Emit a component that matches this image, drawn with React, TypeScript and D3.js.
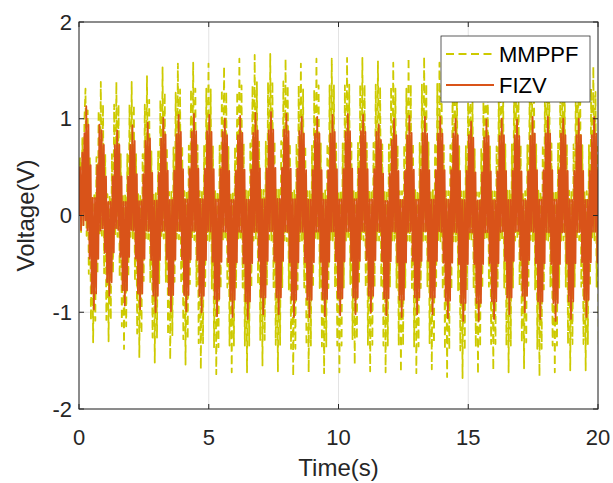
import React from 'react';
import * as d3 from 'd3';

const W = 613;
const H = 483;

const xTicks = [0, 5, 10, 15, 20];
const yTicks = [-2, -1, 0, 1, 2];

// times (s) of the upper spikes of each slow cycle
const peakTimes = [
  0.28, 0.87, 1.47, 2.06, 2.65, 3.25, 3.84, 4.43, 5.02, 5.62,
  6.21, 6.8, 7.4, 7.99, 8.58, 9.18, 9.77, 10.36, 10.95, 11.55,
  12.14, 12.73, 13.33, 13.92, 14.51, 15.11, 15.7, 16.29, 16.88, 17.48,
  18.07, 18.66, 19.26, 19.85,
];

// FIZV: upper spike and lower spike of each cycle
const fizvUpper = [
  1.13, 0.88, 0.88, 0.93, 0.96, 1.01, 1.04, 1.05, 1.04, 1.0,
  1.03, 1.06, 1.07, 1.05, 1.02, 1.02, 1.04, 1.05, 1.04, 0.94,
  1.0, 1.03, 1.02, 1.02, 1.0, 0.97, 0.99, 1.0, 0.99, 1.02,
  1.02, 1.0, 1.0, 1.02,
];
const fizvLower = [
  -0.97, -0.83, -0.93, -0.97, -1.0, -0.99, -0.99, -1.0, -1.04, -1.05,
  -1.07, -1.02, -1.02, -1.05, -1.05, -1.04, -1.03, -1.02, -1.0, -1.03,
  -1.05, -1.02, -1.02, -1.06, -1.09, -1.09, -1.07, -1.02, -1.0, -1.07,
  -1.09, -1.07, -1.05, -1.05,
];

// MMPPF: upper spike and lower spike of each cycle
const mmppfUpper = [
  1.31, 1.38, 1.38, 1.38, 1.44, 1.53, 1.57, 1.58, 1.57, 1.54,
  1.62, 1.66, 1.67, 1.62, 1.57, 1.62, 1.62, 1.63, 1.63, 1.6,
  1.58, 1.63, 1.64, 1.58, 1.56, 1.49, 1.55, 1.6, 1.58, 1.6,
  1.62, 1.6, 1.58, 1.54,
];
const mmppfLower = [
  -1.31, -1.3, -1.38, -1.47, -1.52, -1.49, -1.54, -1.59, -1.64, -1.62,
  -1.62, -1.55, -1.61, -1.66, -1.62, -1.63, -1.62, -1.54, -1.61, -1.62,
  -1.62, -1.63, -1.59, -1.67, -1.68, -1.64, -1.6, -1.62, -1.58, -1.66,
  -1.62, -1.6, -1.6, -1.6,
];

// fast ripple inside one slow cycle: turning points, relative to the cycle's spikes
const rippleTurns = [
  1.0, -0.16, 0.83, -0.46, 0.46, -0.83, 0.16,
  -1.0, 0.16, -0.83, 0.46, -0.46, 0.83, -0.16,
];

// start of the record, before the first spike
const leadInTimes = [0, 0.04, 0.08, 0.13, 0.17, 0.21, 0.25];
const fizvLeadIn = [0, 0.5, -0.15, 0.65, -0.1, 0.85, -0.05];
const mmppfLeadIn = [0, 0.6, -0.2, 0.8, -0.1, 1.0, -0.1];
const mmppfShift = -0.03;

const seriesNames = ['MMPPF', 'FIZV'];
const seriesColors = ['#cdca00', '#d95319'];

function buildSeries(upper: number[], lower: number[], leadIn: number[], shift: number): [number, number][] {
  const pts: [number, number][] = [];
  const n = peakTimes.length;
  leadInTimes.forEach((t, i) => {
    if (t < peakTimes[0] + shift - 0.01) pts.push([t, leadIn[i]]);
  });
  for (let k = 0; k < n; k++) {
    const t0 = peakTimes[k] + shift;
    const t1 = k < n - 1 ? peakTimes[k + 1] + shift : t0 + (peakTimes[k] - peakTimes[k - 1]);
    const m = rippleTurns.length;
    for (let j = 0; j < m; j++) {
      const t = t0 + ((t1 - t0) * j) / m;
      if (t > 20.1) break;
      const s = rippleTurns[j];
      const v = s >= 0 ? s * upper[k] : s * Math.abs(lower[k]);
      pts.push([t, v]);
    }
  }
  return pts;
}

export default function App() {
  const left = 79, right = 598, top = 22, bottom = 409;
  const x = d3.scaleLinear().domain([0, 20]).range([left, right]);
  const y = d3.scaleLinear().domain([-2, 2]).range([bottom, top]);
  const line = d3.line<[number, number]>().x(d => x(d[0])).y(d => y(d[1]));

  const mm = buildSeries(mmppfUpper, mmppfLower, mmppfLeadIn, mmppfShift);
  const fz = buildSeries(fizvUpper, fizvLower, fizvLeadIn, 0);

  const axisColor = '#262626';
  const gridColor = '#e3e3e3';
  const font = '"Liberation Sans", Arial, Helvetica, sans-serif';
  const tickLen = 5;

  return (
    <div style={{ position: 'absolute', left: 0, top: 0 }}>
      <svg width={W} height={H} style={{ display: 'block', background: '#fff' }} fontFamily={font}>
        <defs>
          <clipPath id="plotClip">
            <rect x={left} y={top} width={right - left} height={bottom - top} />
          </clipPath>
        </defs>
        {xTicks.map(t => (
          <line key={'gx' + t} x1={x(t)} x2={x(t)} y1={top} y2={bottom} stroke={gridColor} strokeWidth={1} />
        ))}
        {yTicks.map(t => (
          <line key={'gy' + t} x1={left} x2={right} y1={y(t)} y2={y(t)} stroke={gridColor} strokeWidth={1} />
        ))}
        <g clipPath="url(#plotClip)">
          <path d={line(mm) || ''} fill="none" stroke={seriesColors[0]} strokeWidth={1.8} strokeDasharray="8,4.5" strokeLinejoin="round" />
          <path d={line(fz) || ''} fill="none" stroke={seriesColors[1]} strokeWidth={1.8} strokeLinejoin="round" />
        </g>
        <rect x={left} y={top} width={right - left} height={bottom - top} fill="none" stroke={axisColor} strokeWidth={1} />
        {xTicks.map(t => (
          <g key={'tx' + t}>
            <line x1={x(t)} x2={x(t)} y1={bottom} y2={bottom - tickLen} stroke={axisColor} />
            <line x1={x(t)} x2={x(t)} y1={top} y2={top + tickLen} stroke={axisColor} />
            <text x={x(t)} y={bottom + 28} fontSize={22} textAnchor="middle" dominantBaseline="central" fill={axisColor}>{t}</text>
          </g>
        ))}
        {yTicks.map(t => (
          <g key={'ty' + t}>
            <line x1={left} x2={left + tickLen} y1={y(t)} y2={y(t)} stroke={axisColor} />
            <line x1={right} x2={right - tickLen} y1={y(t)} y2={y(t)} stroke={axisColor} />
            <text x={left - 7} y={y(t)} fontSize={22} textAnchor="end" dominantBaseline="central" fill={axisColor}>{t}</text>
          </g>
        ))}
        <text x={(left + right) / 2} y={476} fontSize={24} textAnchor="middle" fill={axisColor}>Time(s)</text>
        <text transform={`translate(34,${(top + bottom) / 2}) rotate(-90)`} fontSize={24} textAnchor="middle" fill={axisColor}>Voltage(V)</text>
        <rect x={441} y={36} width={149} height={66} fill="#fff" stroke={axisColor} strokeWidth={0.75} />
        <line x1={446} x2={494} y1={54} y2={54} stroke={seriesColors[0]} strokeWidth={2} strokeDasharray="8,4.5" />
        <text x={499} y={54} fontSize={22} dominantBaseline="central" fill="#000">{seriesNames[0]}</text>
        <line x1={446} x2={494} y1={85} y2={85} stroke={seriesColors[1]} strokeWidth={2} />
        <text x={499} y={85} fontSize={22} dominantBaseline="central" fill="#000">{seriesNames[1]}</text>
      </svg>
    </div>
  );
}
